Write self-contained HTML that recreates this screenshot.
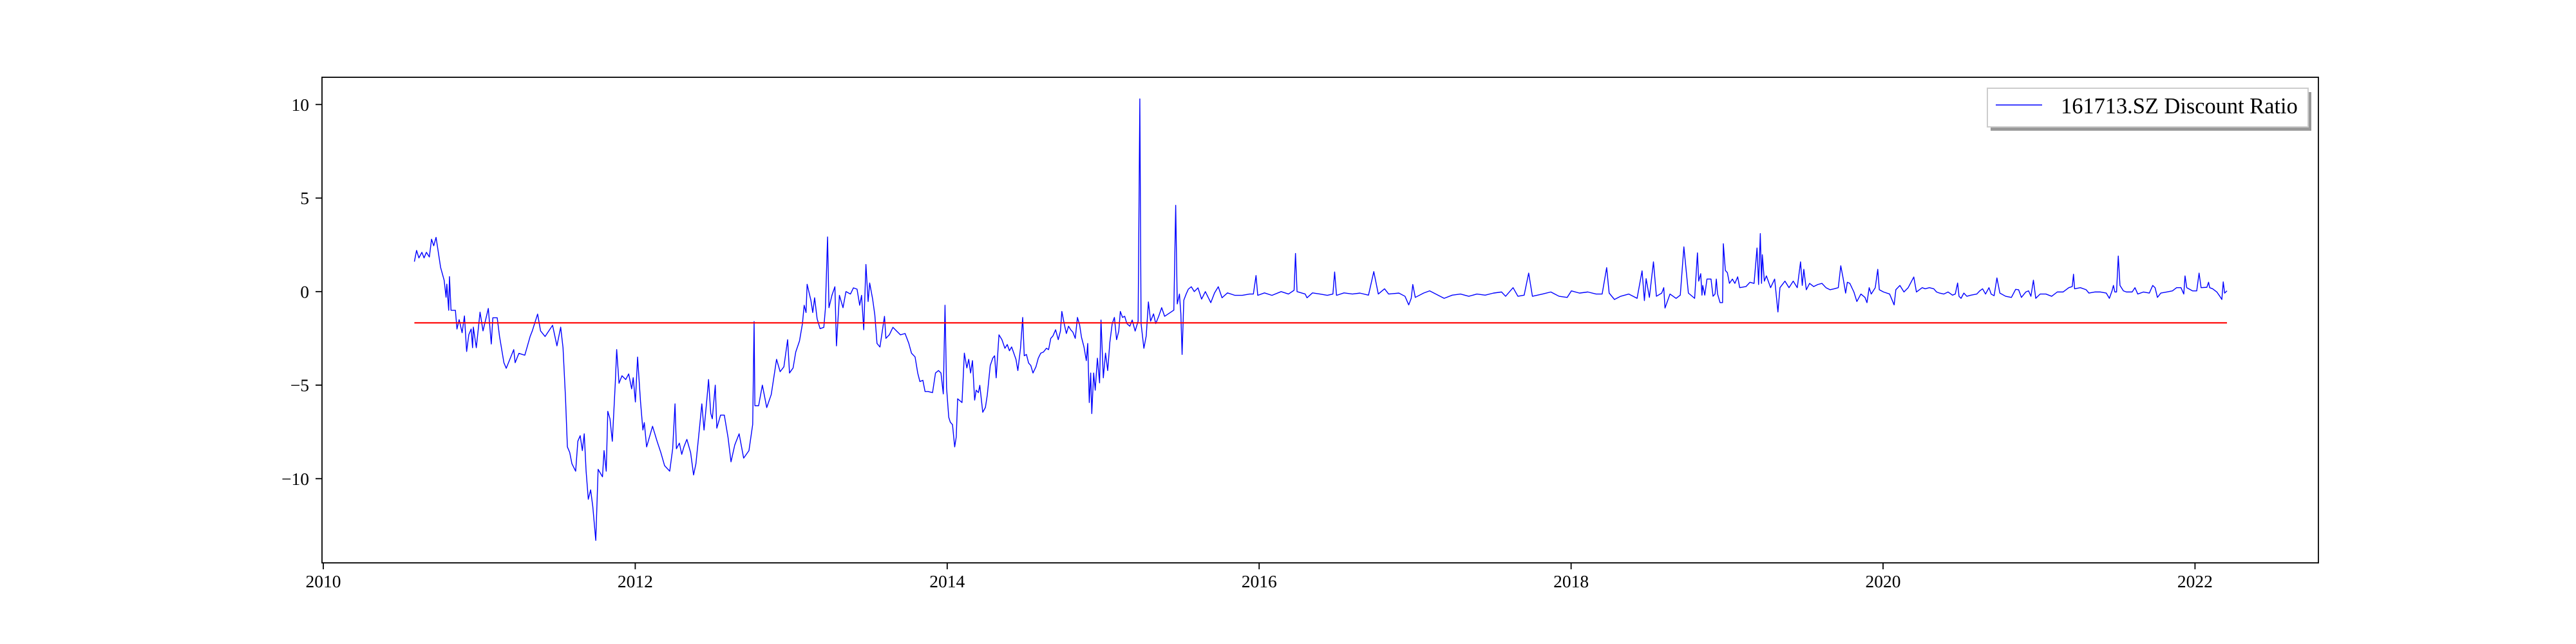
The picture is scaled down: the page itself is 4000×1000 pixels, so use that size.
<!DOCTYPE html>
<html>
<head>
<meta charset="utf-8">
<style>
  html,body{margin:0;padding:0;background:#fff;}
  body{width:4000px;height:1000px;overflow:hidden;}
  svg{display:block;}
  text{font-family:"Liberation Serif","DejaVu Serif",serif;fill:#000;}
</style>
</head>
<body>
<svg id="chart" width="4000" height="1000" viewBox="0 0 4000 1000" xmlns="http://www.w3.org/2000/svg">
  <rect x="0" y="0" width="4000" height="1000" fill="#fff"/>
  <g id="plot"></g>
  <g id="axes"></g>
  <g id="legend">
    <rect x="3091" y="143" width="498" height="60" fill="#999"/>
    <rect x="3086" y="137" width="498" height="60" fill="#fff" stroke="#ccc" stroke-width="2"/>
    <line x1="3099" y1="163" x2="3171" y2="163" stroke="#0000ff" stroke-width="1.4"/>
    <text x="3200" y="176" font-size="34.4">161713.SZ Discount Ratio</text>
  </g>
</svg>
<script>
// ---- data ----
const years = [
2010.584,2010.598,2010.613,2010.632,2010.646,2010.661,2010.680,2010.694,2010.708,2010.723,2010.752,2010.775,2010.787,2010.792,2010.804,2010.809,2010.819,2010.847,2010.857,2010.871,2010.890,2010.905,2010.919,2010.933,2010.948,2010.957,2010.962,2010.981,2011.005,2011.024,2011.058,2011.077,2011.087,2011.115,2011.130,2011.158,2011.173,2011.197,2011.221,2011.230,2011.254,2011.292,2011.326,2011.340,2011.374,2011.393,2011.422,2011.470,2011.498,2011.522,2011.537,2011.553,2011.565,2011.580,2011.594,2011.618,2011.632,2011.647,2011.661,2011.673,2011.685,2011.699,2011.714,2011.728,2011.747,2011.762,2011.790,2011.800,2011.814,2011.824,2011.838,2011.853,2011.872,2011.881,2011.896,2011.915,2011.939,2011.958,2011.977,2011.987,2012.001,2012.015,2012.034,2012.049,2012.058,2012.073,2012.111,2012.140,2012.164,2012.188,2012.221,2012.240,2012.255,2012.264,2012.283,2012.298,2012.312,2012.331,2012.355,2012.374,2012.389,2012.413,2012.427,2012.441,2012.461,2012.470,2012.484,2012.494,2012.513,2012.523,2012.547,2012.571,2012.595,2012.614,2012.638,2012.666,2012.695,2012.729,2012.753,2012.762,2012.767,2012.791,2012.815,2012.843,2012.872,
2012.906,2012.929,2012.953,2012.977,2012.989,2013.012,2013.029,2013.053,2013.072,2013.083,2013.095,2013.102,2013.126,2013.138,2013.150,2013.166,2013.185,2013.209,2013.219,2013.233,2013.242,2013.261,2013.280,2013.290,2013.309,2013.332,2013.351,2013.380,2013.399,2013.422,2013.439,2013.451,2013.465,2013.479,2013.493,2013.503,2013.522,2013.536,2013.550,2013.569,2013.584,2013.598,2013.607,2013.629,2013.652,2013.676,2013.700,2013.730,2013.754,2013.771,2013.794,2013.811,2013.825,2013.844,2013.858,2013.877,2013.906,2013.925,2013.944,2013.960,2013.975,2013.986,2013.996,2014.010,2014.020,2014.034,2014.048,2014.058,2014.067,2014.095,2014.110,2014.126,2014.138,2014.150,2014.162,2014.176,2014.186,2014.200,2014.209,2014.228,2014.245,2014.257,2014.276,2014.292,2014.304,2014.314,2014.332,2014.351,2014.370,2014.385,2014.399,2014.413,2014.427,2014.441,2014.453,2014.470,2014.484,2014.494,2014.508,2014.522,2014.536,2014.550,2014.569,2014.584,2014.600,2014.617,2014.636,2014.650,2014.664,2014.678,2014.695,2014.712,2014.726,2014.735,2014.750,2014.764,2014.778,2014.792,2014.806,2014.821,2014.835,2014.849,2014.861,2014.877,2014.892,2014.901,2014.911,2014.920,2014.927,2014.939,2014.949,2014.963,2014.977,2014.986,2015.001,2015.015,2015.029,2015.043,2015.058,2015.072,2015.086,2015.100,2015.110,2015.124,2015.138,2015.152,2015.171,2015.186,2015.205,2015.224,2015.235,2015.243,2015.261,2015.276,2015.290,2015.304,2015.323,2015.337,2015.356,2015.375,2015.394,2015.453,2015.465,2015.475,2015.489,2015.498,2015.506,2015.517,2015.532,2015.546,2015.565,2015.584,2015.608,2015.631,2015.655,2015.690,2015.714,2015.738,2015.762,2015.797,2015.845,2015.892,2015.939,2015.963,2015.980,2015.991,2016.034,2016.082,2016.141,2016.188,2016.224,2016.233,2016.243,2016.295,2016.307,2016.342,2016.390,2016.437,2016.473,2016.484,2016.496,2016.544,2016.598,
2016.646,2016.701,2016.735,2016.764,2016.804,2016.830,2016.896,2016.935,2016.959,2016.975,2016.985,2017.001,2017.054,2017.093,2017.133,2017.186,2017.238,2017.291,2017.344,2017.396,2017.449,2017.502,2017.554,2017.580,2017.628,2017.659,2017.699,2017.728,2017.752,2017.817,2017.870,2017.923,2017.975,2018.002,2018.054,2018.107,2018.160,2018.199,2018.228,2018.244,2018.278,2018.318,2018.370,2018.423,2018.455,2018.470,2018.481,2018.502,2018.528,2018.547,2018.581,2018.594,2018.602,2018.634,2018.673,2018.700,2018.723,2018.752,2018.792,2018.810,2018.818,2018.831,2018.839,2018.844,2018.857,2018.871,2018.897,2018.910,2018.923,2018.931,2018.939,2018.955,2018.971,2018.976,2018.989,2019.002,2019.015,2019.034,2019.050,2019.068,2019.081,2019.121,2019.147,2019.173,2019.192,2019.202,2019.213,2019.221,2019.226,2019.239,2019.252,2019.279,2019.305,2019.326,2019.339,2019.371,2019.397,2019.424,2019.450,2019.471,2019.482,2019.492,2019.508,2019.529,2019.555,2019.582,2019.608,2019.634,2019.660,2019.687,2019.713,2019.729,2019.745,2019.760,2019.771,2019.787,2019.813,2019.832,2019.858,2019.884,2019.897,2019.911,2019.924,2019.950,2019.966,2019.976,2020.003,2020.042,2020.071,2020.082,2020.108,2020.134,2020.161,2020.197,
2020.214,2020.233,2020.251,2020.270,2020.297,2020.325,2020.343,2020.362,2020.389,2020.417,2020.445,2020.463,2020.478,2020.487,2020.500,2020.518,2020.537,2020.564,2020.601,2020.620,2020.638,2020.657,2020.679,2020.693,2020.712,2020.730,2020.749,2020.786,2020.823,2020.850,2020.869,2020.887,2020.915,2020.933,2020.948,2020.964,2020.979,2021.007,2021.044,2021.081,2021.117,2021.154,2021.191,2021.213,2021.221,2021.228,2021.265,2021.302,2021.320,2021.357,2021.394,2021.431,2021.451,2021.468,2021.477,2021.486,2021.497,2021.508,2021.519,2021.541,2021.560,2021.597,2021.615,2021.633,2021.670,2021.707,2021.729,2021.744,2021.759,2021.781,2021.818,2021.855,2021.882,2021.910,2021.928,2021.936,2021.947,2021.984,2022.011,2022.026,2022.039,2022.076,2022.087,2022.094,2022.113,2022.140,2022.159,2022.172,2022.181,2022.190,2022.205
];
const ratios = [
1.6,2.2,1.8,2.1,1.8,2.1,1.85,2.8,2.45,2.9,1.3,0.6,-0.3,0.4,-1.0,0.8,-1.0,-1.0,-2.0,-1.5,-2.2,-1.3,-3.2,-2.3,-2.0,-3.0,-1.9,-3.0,-1.1,-2.1,-0.9,-2.8,-1.4,-1.4,-2.4,-3.8,-4.1,-3.6,-3.1,-3.8,-3.3,-3.4,-2.4,-2.1,-1.2,-2.1,-2.4,-1.8,-2.9,-1.9,-3.0,-5.7,-8.3,-8.6,-9.2,-9.6,-8.0,-7.7,-8.5,-7.6,-9.6,-11.1,-10.6,-11.5,-13.3,-9.5,-9.9,-8.5,-9.6,-6.4,-6.8,-8.0,-4.9,-3.1,-4.9,-4.5,-4.7,-4.4,-5.2,-4.6,-5.9,-3.5,-5.9,-7.4,-7.0,-8.3,-7.2,-8.0,-8.6,-9.3,-9.6,-8.4,-6.0,-8.4,-8.1,-8.7,-8.3,-7.9,-8.6,-9.8,-9.2,-7.2,-6.0,-7.4,-5.6,-4.7,-6.5,-6.8,-5.0,-7.3,-6.6,-6.6,-7.8,-9.1,-8.2,-7.6,-8.9,-8.5,-7.1,-1.6,-6.1,-6.1,-5.0,-6.2,-5.5,
-3.62,-4.28,-4.02,-2.57,-4.35,-4.08,-3.23,-2.64,-1.71,-0.73,-1.12,0.39,-0.46,-1.12,-0.33,-1.45,-1.98,-1.91,-0.92,2.92,-0.86,-0.20,0.26,-2.90,-0.20,-0.86,0.00,-0.13,0.20,0.13,-0.73,-0.20,-2.04,1.45,-0.53,0.46,-0.40,-1.25,-2.77,-2.96,-2.11,-1.32,-2.50,-2.31,-1.91,-2.11,-2.31,-2.24,-2.77,-3.29,-3.49,-4.35,-4.81,-4.74,-5.34,-5.34,-5.40,-4.35,-4.22,-4.35,-5.47,-0.73,-5.14,-6.72,-6.98,-7.11,-8.30,-7.77,-5.73,-5.93,-3.29,-4.08,-3.62,-4.35,-3.69,-5.80,-5.27,-5.40,-5.01,-6.45,-6.19,-5.53,-3.95,-3.56,-3.43,-4.61,-2.31,-2.57,-3.03,-2.83,-3.16,-2.96,-3.29,-3.62,-4.22,-3.03,-1.38,-3.43,-3.36,-3.82,-3.95,-4.35,-4.02,-3.56,-3.29,-3.23,-3.03,-3.10,-2.50,-2.37,-2.04,-2.57,-2.11,-1.06,-1.71,-2.24,-1.85,-2.04,-2.17,-2.50,-1.38,-1.78,-2.44,-2.96,-3.69,-2.77,-5.93,-4.35,-6.52,-4.35,-5.27,-3.56,-4.88,-1.52,-4.61,-3.29,-4.22,-2.70,-1.71,-1.38,-2.57,-2.11,-1.06,-1.38,-1.32,-1.71,-1.85,-1.52,-2.11,-1.58,10.30,-1.71,-3.03,-2.37,-0.55,-1.58,-1.19,-1.71,-1.32,-0.86,-1.32,-0.99,4.61,-0.66,-0.13,-1.19,-3.36,-0.46,-0.13,0.13,0.26,0.00,0.20,-0.40,0.00,-0.59,-0.07,0.26,-0.33,-0.07,-0.20,-0.20,-0.13,-0.13,0.86,-0.20,-0.07,-0.20,0.00,-0.13,0.07,2.04,0.00,-0.13,-0.33,-0.07,-0.13,-0.20,-0.13,1.05,-0.20,-0.07,-0.13,
-0.08,-0.19,1.07,-0.13,0.15,-0.13,-0.08,-0.25,-0.71,-0.36,0.38,-0.31,-0.08,0.04,-0.13,-0.36,-0.19,-0.13,-0.25,-0.13,-0.19,-0.08,-0.02,-0.25,0.21,-0.25,-0.19,0.99,-0.25,-0.13,-0.02,-0.25,-0.31,0.04,-0.08,-0.02,-0.13,-0.13,1.28,-0.08,-0.42,-0.25,-0.13,-0.36,1.11,-0.48,0.69,-0.31,1.59,-0.25,-0.08,0.21,-0.88,-0.13,-0.36,-0.19,2.39,-0.08,-0.36,2.07,0.56,0.96,-0.19,0.33,-0.19,0.67,0.67,-0.25,-0.13,0.67,-0.13,-0.59,-0.59,2.56,1.13,1.01,0.44,0.67,0.44,0.79,0.21,0.27,0.50,0.44,2.33,0.38,3.10,0.44,1.97,0.56,0.84,0.21,0.67,-1.09,0.21,0.56,0.21,0.56,0.21,1.59,0.33,1.19,0.10,0.44,0.27,0.38,0.44,0.21,0.10,0.15,0.21,1.38,0.67,-0.08,0.50,0.44,-0.02,-0.53,-0.13,-0.31,-0.59,0.21,-0.13,0.21,1.19,0.10,-0.02,-0.13,-0.71,0.10,0.33,-0.02,0.21,0.78,
-0.02,0.10,0.21,0.15,0.21,0.15,-0.02,-0.08,-0.13,-0.02,-0.19,-0.13,0.46,-0.25,-0.36,-0.08,-0.25,-0.19,-0.13,0.04,0.15,-0.13,0.21,-0.13,-0.22,0.73,-0.08,-0.25,-0.31,0.12,0.10,-0.31,-0.02,0.04,-0.25,0.61,-0.36,-0.13,-0.13,-0.25,-0.02,-0.02,0.21,0.27,0.93,0.15,0.21,0.10,-0.08,-0.02,-0.02,-0.08,-0.36,0.04,0.33,-0.02,-0.02,1.90,0.33,0.04,-0.02,-0.02,0.21,-0.13,-0.02,-0.08,0.33,0.21,-0.31,-0.08,-0.02,0.04,0.21,0.21,-0.13,0.84,0.21,0.04,0.04,0.99,0.21,0.23,0.50,0.21,0.15,-0.02,-0.25,-0.42,0.52,-0.08,0.04
];
const meanLevel = [-1.67];
const meanRange = [2010.584, 2022.205];
const xTickValues = [2010, 2012, 2014, 2016, 2018, 2020, 2022];
const xTickLabels = ["2010", "2012", "2014", "2016", "2018", "2020", "2022"];
const yTickValues = [-10, -5, 0, 5, 10];
const yTickLabels = ["\u221210", "\u22125", "0", "5", "10"];

// ---- layout ----
const AX = {left: 500, right: 3600, top: 120, bottom: 874};
const X0 = 2010, PX_PER_YEAR = 242.2, X0PX = 502;
const Y0PX = 452.8, PX_PER_UNIT = 29.05;
function xScale(v){ return X0PX + (v - X0) * PX_PER_YEAR; }
function yScale(v){ return Y0PX - v * PX_PER_UNIT; }

const NS = "http://www.w3.org/2000/svg";
const plot = document.getElementById('plot');
const axes = document.getElementById('axes');

// clip
const defs = document.createElementNS(NS, 'defs');
const cp = document.createElementNS(NS, 'clipPath');
cp.setAttribute('id', 'clip');
const cr = document.createElementNS(NS, 'rect');
cr.setAttribute('x', AX.left); cr.setAttribute('y', AX.top);
cr.setAttribute('width', AX.right - AX.left); cr.setAttribute('height', AX.bottom - AX.top);
cp.appendChild(cr); defs.appendChild(cp);
document.getElementById('chart').insertBefore(defs, plot);
plot.setAttribute('clip-path', 'url(#clip)');

// series
let d = '';
for (let i = 0; i < years.length; i++) {
  d += (i ? 'L' : 'M') + xScale(years[i]).toFixed(2) + ' ' + yScale(ratios[i]).toFixed(2);
}
const series = document.createElementNS(NS, 'path');
series.setAttribute('d', d);
series.setAttribute('fill', 'none');
series.setAttribute('stroke', '#0000ff');
series.setAttribute('stroke-width', '1.4');
series.setAttribute('stroke-linejoin', 'round');


plot.appendChild(series);

// mean line
const ml = document.createElementNS(NS, 'line');
ml.setAttribute('x1', xScale(meanRange[0])); ml.setAttribute('x2', xScale(meanRange[1]));
ml.setAttribute('y1', yScale(meanLevel[0])); ml.setAttribute('y2', yScale(meanLevel[0]));
ml.setAttribute('stroke', '#ff0000'); ml.setAttribute('stroke-width', '2.2');


plot.appendChild(ml);

// frame
const frame = document.createElementNS(NS, 'rect');
frame.setAttribute('x', AX.left); frame.setAttribute('y', AX.top);
frame.setAttribute('width', AX.right - AX.left); frame.setAttribute('height', AX.bottom - AX.top);
frame.setAttribute('fill', 'none'); frame.setAttribute('stroke', '#000'); frame.setAttribute('stroke-width', '1.8');


axes.appendChild(frame);

// x ticks
xTickValues.forEach((v, i) => {
  const x = xScale(v);
  const t = document.createElementNS(NS, 'line');
  t.setAttribute('x1', x); t.setAttribute('x2', x);
  t.setAttribute('y1', AX.bottom); t.setAttribute('y2', AX.bottom + 10);
  t.setAttribute('stroke', '#000'); t.setAttribute('stroke-width', '1.8');
  
  
  axes.appendChild(t);
  const lb = document.createElementNS(NS, 'text');
  lb.setAttribute('x', x); lb.setAttribute('y', AX.bottom + 38);
  lb.setAttribute('text-anchor', 'middle'); lb.setAttribute('font-size', '27.5');
  lb.textContent = xTickLabels[i];
  
  
  axes.appendChild(lb);
});

// y ticks
yTickValues.forEach((v, i) => {
  const y = yScale(v);
  const t = document.createElementNS(NS, 'line');
  t.setAttribute('x1', AX.left - 10); t.setAttribute('x2', AX.left);
  t.setAttribute('y1', y); t.setAttribute('y2', y);
  t.setAttribute('stroke', '#000'); t.setAttribute('stroke-width', '1.8');
  
  
  axes.appendChild(t);
  const lb = document.createElementNS(NS, 'text');
  lb.setAttribute('x', AX.left - 20); lb.setAttribute('y', y + 9.5);
  lb.setAttribute('text-anchor', 'end'); lb.setAttribute('font-size', '27.5');
  lb.textContent = yTickLabels[i];
  
  
  axes.appendChild(lb);
});
</script>
</body>
</html>
